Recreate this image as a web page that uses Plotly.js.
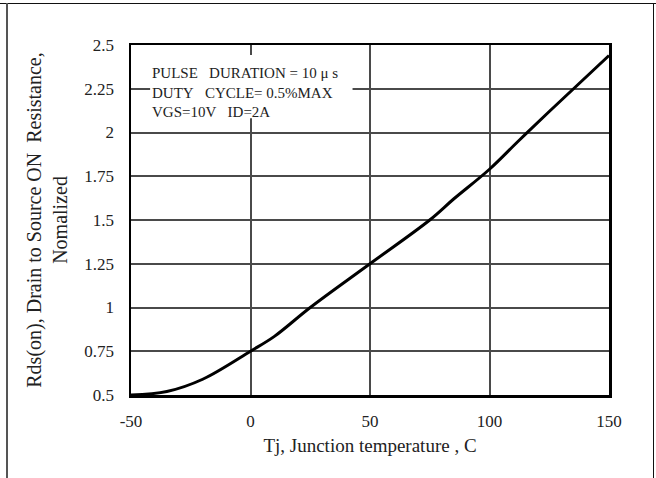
<!DOCTYPE html>
<html>
<head>
<meta charset="utf-8">
<script src="https://cdn.plot.ly/plotly-3.0.1.min.js"></script>
<style>
  html, body { margin: 0; padding: 0; background: #fff; }
  #wrap { position: relative; width: 656px; height: 478px; overflow: hidden; }
  #chart { position: absolute; left: 0; top: 0; width: 656px; height: 478px; }
  .fr { position: absolute; }
</style>
</head>
<body>
<div id="wrap">
  <div id="chart"></div>
  <div class="fr" style="left:0;top:3px;width:656px;height:1px;background:#111;"></div>
  <div class="fr" style="left:6px;top:3px;width:2px;height:475px;background:#555;"></div>
  <div class="fr" style="left:653px;top:3px;width:1px;height:475px;background:#111;"></div>
</div>
<script>
// Junction temperature (°C)
const tempC = [-50, -35, -20, 0, 10, 25, 50, 75, 85, 100, 112, 125, 150];
// Normalized Rds(on)
const rdsNorm = [0.50, 0.52, 0.59, 0.75, 0.835, 1.00, 1.25, 1.50, 1.62, 1.79, 1.95, 2.12, 2.44];

const xTicks = [-50, 0, 50, 100, 150];
const xTickText = ['-50', '0', '50', '100', '150'];
const yTicks = [0.5, 0.75, 1, 1.25, 1.5, 1.75, 2, 2.25, 2.5];
const yTickText = ['0.5', '0.75', '1', '1.25', '1.5', '1.75', '2', '2.25', '2.5'];

const noteLines = ['PULSE&nbsp;&nbsp;&nbsp;DURATION = 10 μ s', 'DUTY&nbsp;&nbsp;&nbsp;CYCLE= 0.5%MAX', 'VGS=10V&nbsp;&nbsp;&nbsp;ID=2A'];

const serif = 'Liberation Serif, Times New Roman, serif';

const trace = {
  x: tempC, y: rdsNorm, type: 'scatter', mode: 'lines',
  line: { color: '#000', width: 3, shape: 'spline', smoothing: 1 },
  hoverinfo: 'skip', cliponaxis: false
};

const layout = {
  width: 656, height: 478,
  margin: { l: 131, r: 47, t: 45, b: 83 },
  paper_bgcolor: '#fff', plot_bgcolor: '#fff',
  showlegend: false,
  font: { family: serif, color: '#222', size: 17 },
  xaxis: {
    range: [-50, 150], dtick: 25, tick0: -50,
    tickvals: xTicks, ticktext: xTickText,
    showgrid: true, gridcolor: '#4a4a4a', gridwidth: 2,
    showline: true, linecolor: '#000', linewidth: 2.5, mirror: true,
    zeroline: false, ticks: '', ticklabelstandoff: 9,
    tickfont: { family: serif, size: 17, color: '#222' },
    title: { text: 'Tj, Junction temperature , C', font: { family: serif, size: 19, color: '#222' }, standoff: 9 }
  },
  yaxis: {
    range: [0.5, 2.5], dtick: 0.25, tick0: 0.5,
    tickvals: yTicks, ticktext: yTickText,
    showgrid: true, gridcolor: '#4a4a4a', gridwidth: 2,
    showline: true, linecolor: '#000', linewidth: 2.5, mirror: true,
    zeroline: false, ticks: '', ticklabelstandoff: 11,
    tickfont: { family: serif, size: 17, color: '#222' },
    title: { text: 'Rds(on), Drain to Source ON&nbsp;&nbsp;Resistance,<br>Nomalized', font: { family: serif, size: 20, color: '#222' }, standoff: 12 }
  },
  shapes: [{
    type: 'rect', xref: 'x', yref: 'y', x0: -42, x1: 42.7, y0: 2.082, y1: 2.443,
    fillcolor: '#fff', line: { width: 0 }, layer: 'above'
  }],
  annotations: [{
    xref: 'x', yref: 'y', x: -42, y: 2.40, xanchor: 'left', yanchor: 'top',
    text: noteLines.join('<br>'), align: 'left', showarrow: false,
    font: { family: serif, size: 15, color: '#222' },
    borderpad: 1
  }]
};

Plotly.newPlot('chart', [trace], layout, { staticPlot: true, displayModeBar: false });
</script>
</body>
</html>
